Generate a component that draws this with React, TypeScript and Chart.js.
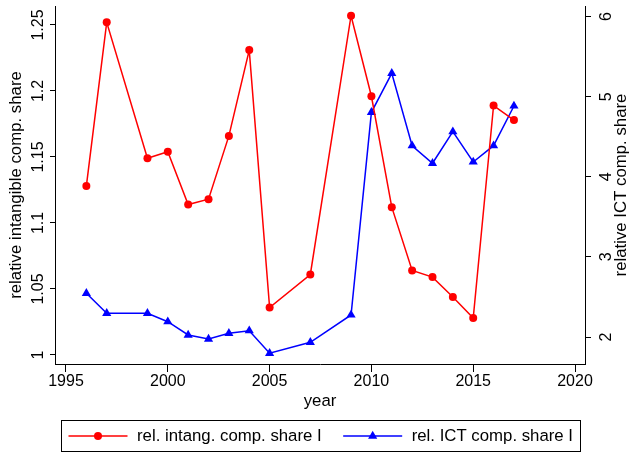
import React, { useEffect, useRef } from "react";
import { Chart, registerables } from "chart.js";

Chart.register(...registerables);

const years = [1996, 1997, 1999, 2000, 2001, 2002, 2003, 2004, 2005, 2007, 2009, 2010, 2011, 2012, 2013, 2014, 2015, 2016, 2017];
const intangShare = [1.128, 1.252, 1.149, 1.154, 1.114, 1.118, 1.166, 1.231, 1.036, 1.061, 1.257, 1.196, 1.112, 1.064, 1.059, 1.044, 1.028, 1.189, 1.178];
const ictShare = [2.546, 2.296, 2.296, 2.191, 2.025, 1.975, 2.046, 2.079, 1.797, 1.934, 2.275, 4.805, 5.292, 4.388, 4.169, 4.563, 4.185, 4.388, 4.884];

const xTicks = [1995, 2000, 2005, 2010, 2015, 2020];
const leftTicks = [1, 1.05, 1.1, 1.15, 1.2, 1.25];
const leftTickLabels = ["1", "1.05", "1.1", "1.15", "1.2", "1.25"];
const rightTicks = [2, 3, 4, 5, 6];
const rightTickLabels = ["2", "3", "4", "5", "6"];

const seriesLabels = ["rel. intang. comp. share I", "rel. ICT comp. share I"];
const xTitle = "year";
const leftTitle = "relative intangible comp. share";
const rightTitle = "relative ICT comp. share";

const FONT = "'Liberation Sans', Arial, Helvetica, sans-serif";
const RED = "#ff0000";
const BLUE = "#0000ff";
const AXIS = "#000000";

function drawRotated(ctx: CanvasRenderingContext2D, text: string, x: number, y: number, font: string) {
  ctx.save();
  ctx.translate(x, y);
  ctx.rotate(-Math.PI / 2);
  ctx.font = font;
  ctx.textAlign = "center";
  ctx.textBaseline = "alphabetic";
  ctx.fillStyle = "#000";
  ctx.fillText(text, 0, 0);
  ctx.restore();
}

const customPlugin = {
  id: "stataDecor",
  afterDraw(chart: any) {
    const ctx: CanvasRenderingContext2D = chart.ctx;
    const area = chart.chartArea;
    const yL = chart.scales.yL;
    const yR = chart.scales.yR;
    const tickFont = `16px ${FONT}`;
    const titleFont = `16.8px ${FONT}`;
    leftTicks.forEach((v, i) => {
      drawRotated(ctx, leftTickLabels[i], yL.right - 12.5, yL.getPixelForValue(v), tickFont);
    });
    rightTicks.forEach((v, i) => {
      drawRotated(ctx, rightTickLabels[i], yR.left + 26, yR.getPixelForValue(v), tickFont);
    });
    const midY = (area.top + area.bottom) / 2;
    drawRotated(ctx, leftTitle, yL.left + 20.5, midY, titleFont);
    drawRotated(ctx, rightTitle, yR.left + 41, midY, titleFont);

    // legend
    const legFont = `16.8px ${FONT}`;
    ctx.save();
    ctx.font = legFont;
    const w1 = ctx.measureText(seriesLabels[0]).width;
    const w2 = ctx.measureText(seriesLabels[1]).width;
    const padL = 7, lineLen = 59, gapT = 9.5, gapS = 21.5, padR = 7;
    const total = padL + lineLen + gapT + w1 + gapS + lineLen + gapT + w2 + padR;
    const cx = (area.left + area.right) / 2;
    const boxH = 31;
    const boxBottom = chart.height - 3;
    const boxTop = boxBottom - boxH;
    const boxLeft = Math.round(cx - total / 2) + 0.5;
    ctx.strokeStyle = "#000";
    ctx.lineWidth = 1;
    ctx.strokeRect(boxLeft, boxTop + 0.5, Math.round(total), boxH);
    const my = boxTop + boxH / 2 + 0.5;
    const items = [
      { color: RED, style: "circle", w: w1, text: seriesLabels[0] },
      { color: BLUE, style: "triangle", w: w2, text: seriesLabels[1] },
    ];
    let x = boxLeft + padL;
    items.forEach((it, idx) => {
      ctx.strokeStyle = it.color;
      ctx.lineWidth = 1.5;
      ctx.beginPath();
      ctx.moveTo(x, my);
      ctx.lineTo(x + lineLen, my);
      ctx.stroke();
      ctx.fillStyle = it.color;
      const mx = x + lineLen / 2;
      ctx.beginPath();
      if (it.style === "circle") {
        ctx.arc(mx, my, 4, 0, Math.PI * 2);
      } else {
        const r = 5.3;
        ctx.moveTo(mx, my - r);
        ctx.lineTo(mx + 0.866 * r, my + 0.5 * r);
        ctx.lineTo(mx - 0.866 * r, my + 0.5 * r);
        ctx.closePath();
      }
      ctx.fill();
      x += lineLen + gapT;
      ctx.fillStyle = "#000";
      ctx.font = legFont;
      ctx.textAlign = "left";
      ctx.textBaseline = "middle";
      ctx.fillText(it.text, x, my);
      x += it.w + (idx === 0 ? gapS : 0);
    });
    ctx.restore();
  },
};

export default function App() {
  const canvasRef = useRef<HTMLCanvasElement | null>(null);
  useEffect(() => {
    document.body.style.margin = "0";
    const canvas = canvasRef.current;
    if (!canvas) return;
    const chart = new Chart(canvas, {
      type: "line",
      data: {
        datasets: [
          {
            label: seriesLabels[0],
            data: years.map((y, i) => ({ x: y, y: intangShare[i] })),
            yAxisID: "yL",
            borderColor: RED,
            backgroundColor: RED,
            borderWidth: 1.5,
            pointStyle: "circle",
            pointRadius: 4,
            pointBorderWidth: 0,
            pointBackgroundColor: RED,
            tension: 0,
          },
          {
            label: seriesLabels[1],
            data: years.map((y, i) => ({ x: y, y: ictShare[i] })),
            yAxisID: "yR",
            borderColor: BLUE,
            backgroundColor: BLUE,
            borderWidth: 1.5,
            pointStyle: "triangle",
            pointRadius: 5.3,
            pointBorderWidth: 0,
            pointBackgroundColor: BLUE,
            tension: 0,
          },
        ],
      },
      options: {
        animation: false,
        responsive: false,
        devicePixelRatio: 1,
        layout: { padding: { top: 6, left: 0, right: 0, bottom: 43 } },
        plugins: { legend: { display: false }, tooltip: { enabled: false } },
        scales: {
          x: {
            type: "linear",
            position: "bottom",
            min: 1994.46,
            max: 2020.49,
            afterBuildTicks: (s: any) => {
              s.ticks = xTicks.map((v) => ({ value: v }));
            },
            afterFit: (s: any) => {
              s.height = 47;
            },
            grid: { display: true, drawOnChartArea: false, drawTicks: true, tickLength: 8, color: AXIS, lineWidth: 1 },
            border: { display: true, color: AXIS, width: 1 },
            ticks: {
              padding: 0,
              color: "#000",
              font: { family: FONT, size: 16 },
              callback: (v: any) => String(v),
              maxRotation: 0,
              autoSkip: false,
            },
            title: { display: true, text: xTitle, color: "#000", font: { family: FONT, size: 16.8 }, padding: { top: 1, bottom: 0 } },
          },
          yL: {
            type: "linear",
            position: "left",
            min: 0.99318,
            max: 1.26439,
            afterBuildTicks: (s: any) => {
              s.ticks = leftTicks.map((v) => ({ value: v }));
            },
            afterFit: (s: any) => {
              s.width = 55;
            },
            grid: { display: true, drawOnChartArea: false, drawTicks: true, tickLength: 5, color: AXIS, lineWidth: 1 },
            border: { display: true, color: AXIS, width: 1 },
            ticks: { display: false },
          },
          yR: {
            type: "linear",
            position: "right",
            min: 1.663,
            max: 6.132,
            afterBuildTicks: (s: any) => {
              s.ticks = rightTicks.map((v) => ({ value: v }));
            },
            afterFit: (s: any) => {
              s.width = 44;
            },
            grid: { display: true, drawOnChartArea: false, drawTicks: true, tickLength: 6, color: AXIS, lineWidth: 1 },
            border: { display: true, color: AXIS, width: 1 },
            ticks: { display: false },
          },
        },
      },
      plugins: [customPlugin],
    } as any);
    return () => chart.destroy();
  }, []);
  return (
    <div style={{ position: "fixed", left: 0, top: 0, width: 629, height: 454, background: "#fff" }}>
      <canvas ref={canvasRef} width={629} height={454} style={{ display: "block" }} />
    </div>
  );
}
